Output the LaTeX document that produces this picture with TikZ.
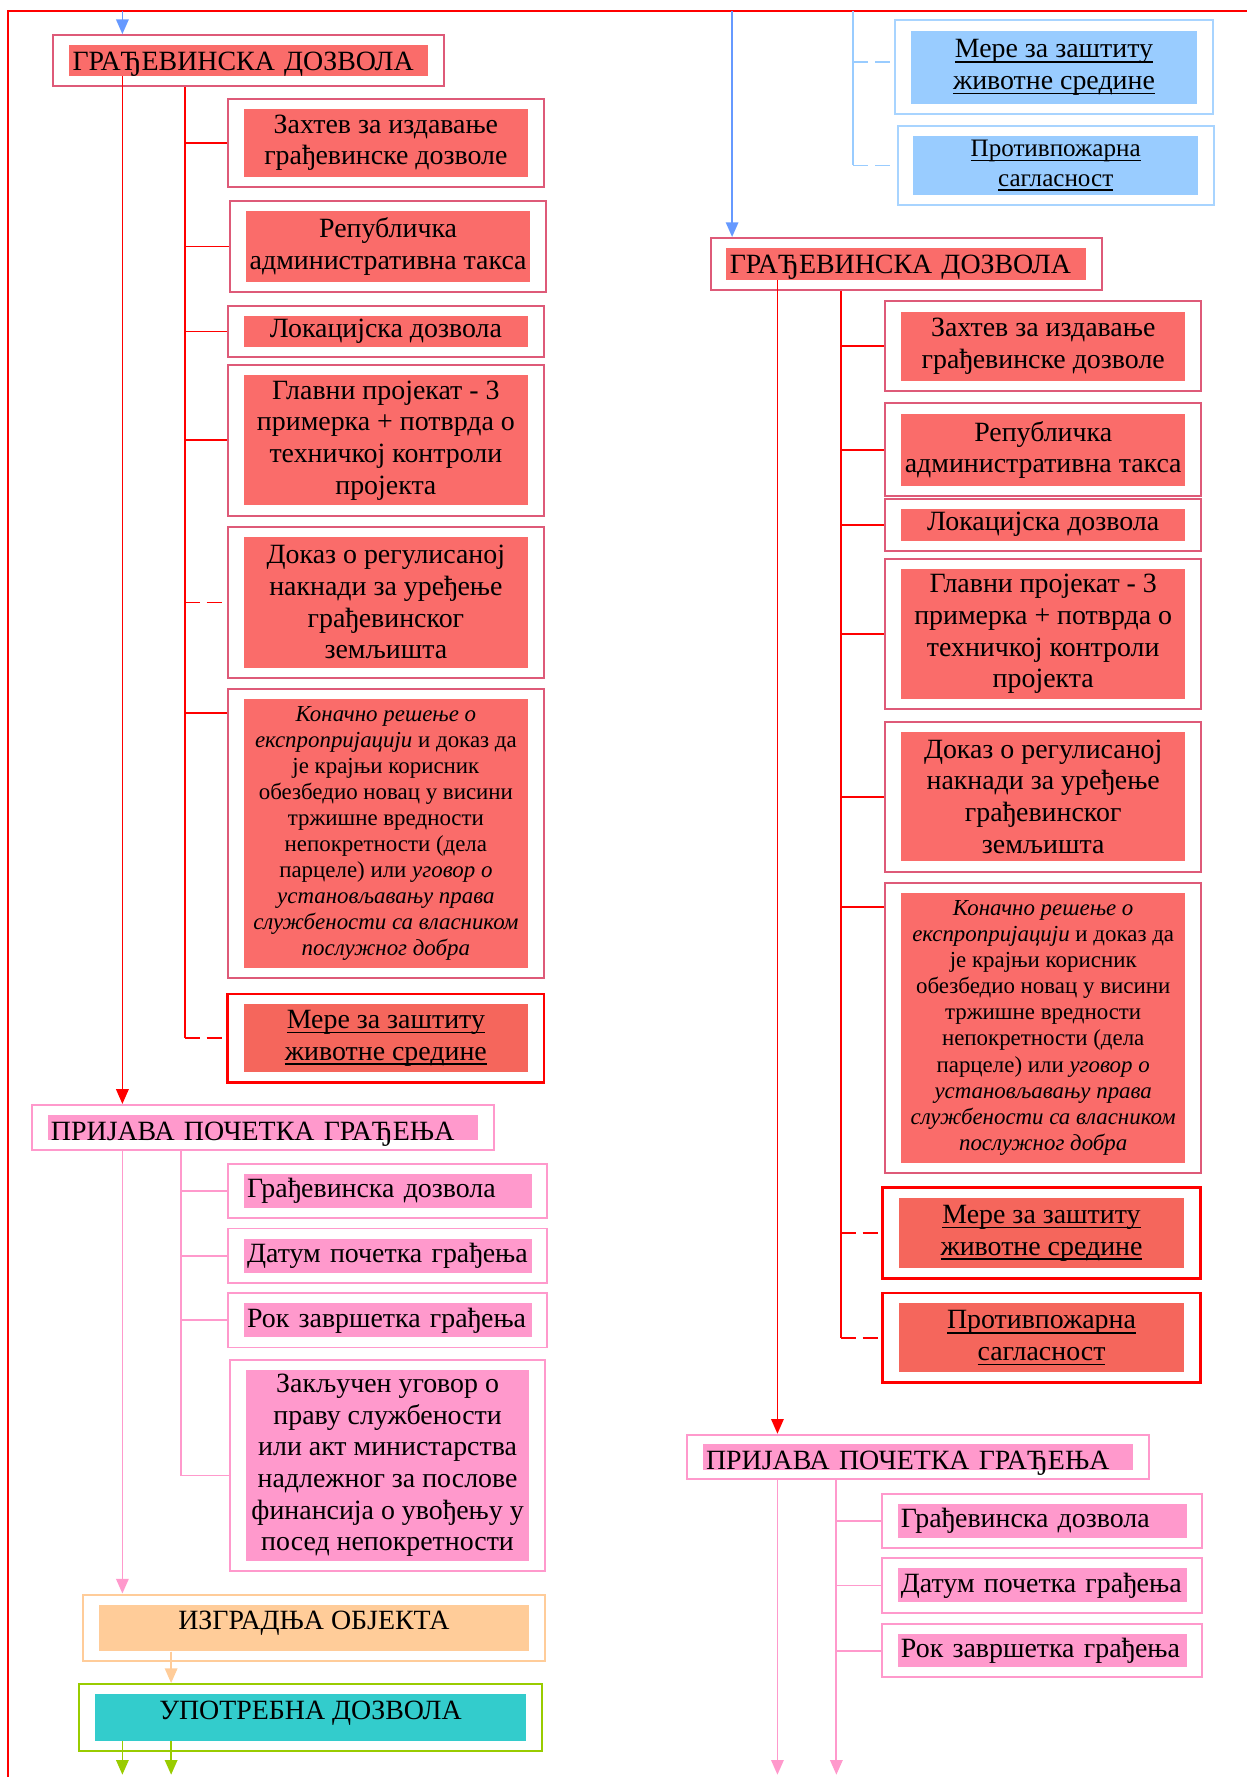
\documentclass[tikz,border=0pt]{standalone}
\usepackage{fontspec}
\setmainfont{Liberation Serif}
\usetikzlibrary{arrows.meta,calc}

\definecolor{cFrame}{HTML}{FF0000}
\definecolor{cPermitEdge}{HTML}{DE5A78}
\definecolor{cPermitFill}{HTML}{FA6C6A}
\definecolor{cMereFill}{HTML}{F5665C}
\definecolor{cPink}{HTML}{FF99CC}
\definecolor{cBlueEdge}{HTML}{A8D4FF}
\definecolor{cBlueFill}{HTML}{99CCFF}
\definecolor{cBlueArrow}{HTML}{6699FF}
\definecolor{cPeach}{HTML}{FFCC99}
\definecolor{cGreen}{HTML}{99CC00}
\definecolor{cTeal}{HTML}{33CCCC}

\newcommand\bodyfont{\fontsize{14pt}{15.9pt}\selectfont}
\newcommand\smallfont{\fontsize{11.5pt}{13.1pt}\selectfont}
\newcommand\ppfont{\fontsize{12.6pt}{14.8pt}\selectfont}
\newcommand\ul[1]{\setbox0\hbox{#1}\rlap{\rule[-2.4pt]{\wd0}{0.75pt}}\box0}

% #1 name, #2 kind, #3 centre, #4 width, #5 height, #6 text options, #7 text
\newcommand\dok[7]{%
  \node[#2box, wd=#4, ht=#5] (#1) at (#3) {};
  \node[#2fill, wd=#4-28, ht=#5-18, #6] (#1t) at (#1) {#7};}

\newcommand\konacno{\textit{Коначно решење о}\\\textit{експропријацији} и доказ да\\је крајњи корисник\\обезбедио новац у висини\\тржишне вредности\\непокретности (дела\\парцеле) или \textit{уговор о}\\\textit{установљавању права}\\\textit{службености са власником}\\\textit{послужног добра}}

\tikzset{
  every node/.style={inner sep=0pt},
  wd/.style={minimum width=(#1)*0.2mm},
  ht/.style={minimum height=(#1)*0.2mm},
  lefttext/.style={align=left, text width=#1},
  titletext/.style={align=left, text width=#1, text depth=0pt},
  permitbox/.style={draw=cPermitEdge, line width=1pt, fill=white},
  permitfill/.style={fill=cPermitFill, align=center, font=\bodyfont},
  merebox/.style={draw=cFrame, line width=1.4pt, fill=white},
  merefill/.style={fill=cMereFill, align=center, font=\bodyfont},
  pinkbox/.style={draw=cPink, line width=1pt, fill=white},
  pinkfill/.style={fill=cPink, align=center, font=\bodyfont},
  bluebox/.style={draw=cBlueEdge, line width=1pt, fill=white},
  bluefill/.style={fill=cBlueFill, align=center, font=\bodyfont},
  peachbox/.style={draw=cPeach, line width=1pt, fill=white},
  peachfill/.style={fill=cPeach, align=center, font=\bodyfont},
  usebox/.style={draw=cGreen, line width=1pt, fill=white},
  usefill/.style={fill=cTeal, align=center, font=\bodyfont},
  tip/.style={-{Triangle[width=2.2mm,length=2.6mm]}},
  dashline/.style={dash pattern=on 2.65mm off 1.2mm},
  redline/.style={draw=cFrame, line width=0.85pt},
  pinkline/.style={draw=cPink, line width=0.9pt},
  blueline/.style={draw=cBlueFill, line width=0.9pt},
}

\begin{document}
\begin{tikzpicture}[x=0.2mm, y=-0.2mm]
		\useasboundingbox (0,0) rectangle (1100,1568);
		
		%%%%% PAGE FRAME %%%%%
		\draw[cFrame, line width=0.9pt] (7,1568) -- (7,10) -- (1100,10);
		\coordinate (frtop) at (0,10);
		\coordinate (pgend) at (0,1566);
		
		\coordinate (spL) at (108,0);
		\coordinate (brL) at (163,0);
		\coordinate (pbrL) at (160,0);
		\coordinate (izx) at (151,0);
		\coordinate (blsp) at (646,0);
		\coordinate (blbr) at (753,0);
		\coordinate (spR) at (686,0);
		\coordinate (brR) at (742,0);
		\coordinate (pbrR) at (738,0);
		
		%%%%% LEFT COLUMN %%%%%
		\dok{gdL}{permit}{219.5,53.5}{345}{45}{titletext=62.2mm, text height=3.4mm}{ГРАЂЕВИНСКА ДОЗВОЛА}
		\dok{zahL}{permit}{340.5,126}{279}{78}{}{Захтев за издавање\\грађевинске дозволе}
		\dok{repL}{permit}{342.5,217.5}{279}{81}{}{Републичка\\административна такса}
		\dok{lokL}{permit}{340.5,292.5}{279}{45}{}{Локацијска дозвола}
		\dok{glL}{permit}{340.5,388.5}{279}{133}{}{Главни пројекат - 3\\примерка + потврда о\\техничкој контроли\\пројекта}
		\dok{dokL}{permit}{340.5,531.5}{279}{133}{}{Доказ о регулисаној\\накнади за уређење\\грађевинског\\земљишта}
		\dok{konL}{permit}{340.5,735.5}{279}{255}{font=\smallfont}{\konacno}
		\dok{merL}{mere}{340.5,916}{279}{78}{}{\ul{Мере за заштиту}\\\ul{животне средине}}
		
		\dok{prL}{pink}{232,995}{408}{40}{titletext=74.8mm, text height=4.4mm}{ПРИЈАВА ПОЧЕТКА ГРАЂЕЊА}
		\dok{gdpL}{pink}{342,1051}{282}{48}{lefttext=49.6mm}{Грађевинска дозвола}
		\dok{datL}{pink}{342,1108}{282}{48}{lefttext=49.6mm}{Датум почетка грађења}
		\dok{rokL}{pink}{342,1165}{282}{48}{lefttext=49.6mm}{Рок завршетка грађења}
		\dok{zakL}{pink}{342,1293}{278}{186}{}{Закључен уговор о\\праву службености\\или акт министарства\\надлежног за послове\\финансија о увођењу у\\посед непокретности}
		
		\dok{izL}{peach}{277,1436.5}{408}{59}{text height=0.5mm, text depth=0pt}{ИЗГРАДЊА ОБЈЕКТА}
		\dok{upL}{use}{274,1515.5}{408}{59}{text height=0.6mm, text depth=0pt}{УПОТРЕБНА ДОЗВОЛА}
		
		%%%%% RIGHT COLUMN %%%%%
		\dok{blMer}{blue}{930,59.5}{280}{83}{}{\ul{Мере за заштиту}\\\ul{животне средине}}
		\dok{blPp}{blue}{931.5,146}{279}{70}{font=\ppfont}{\ul{Противпожарна}\\\ul{сагласност}}
		
		\dok{gdR}{permit}{799.5,233}{345}{46}{titletext=62.2mm, text height=3.4mm}{ГРАЂЕВИНСКА ДОЗВОЛА}
		\dok{zahR}{permit}{920.5,305.5}{279}{79}{}{Захтев за издавање\\грађевинске дозволе}
		\dok{repR}{permit}{920.5,397}{279}{82}{}{Републичка\\административна такса}
		\dok{lokR}{permit}{920.5,463}{279}{46}{}{Локацијска дозвола}
		\dok{glR}{permit}{920.5,559.5}{279}{133}{}{Главни пројекат - 3\\примерка + потврда о\\техничкој контроли\\пројекта}
		\dok{dokR}{permit}{920.5,703}{279}{132}{}{Доказ о регулисаној\\накнади за уређење\\грађевинског\\земљишта}
		\dok{konR}{permit}{920.5,907}{279}{256}{font=\smallfont}{\konacno}
		\dok{merR}{mere}{919,1088}{280}{80}{}{\ul{Мере за заштиту}\\\ul{животне средине}}
		\dok{ppR}{mere}{919,1180.5}{280}{79}{}{\ul{Противпожарна}\\\ul{сагласност}}
		
		\dok{prR}{pink}{810,1285.5}{408}{39}{titletext=74.8mm, text height=4.5mm}{ПРИЈАВА ПОЧЕТКА ГРАЂЕЊА}
		\dok{gdpR}{pink}{919.5,1342}{283}{48}{lefttext=49.8mm}{Грађевинска дозвола}
		\dok{datR}{pink}{919.5,1399}{283}{48}{lefttext=49.8mm}{Датум почетка грађења}
		\dok{rokR}{pink}{919.5,1456.5}{283}{47}{lefttext=49.8mm}{Рок завршетка грађења}
		
		\coordinate (konLc) at ($(konL.north west)+(0,22)$);
		\coordinate (konRc) at ($(konR.north west)+(0,22)$);
		\coordinate (zakLc) at ($(zakL.west)+(0,9)$);
		\coordinate (blMerc) at ($(blMer.west)+(0,-4.5)$);
		
		%%%%% BLUE LINKS %%%%%
		\draw[blueline, draw=cBlueArrow, fill=cBlueArrow, tip] (spL |- frtop) -- (spL |- gdL.north);
		\draw[blueline, draw=cBlueArrow, fill=cBlueArrow, tip] (blsp |- frtop) -- (blsp |- gdR.north);
		\draw[blueline] (blbr |- frtop) -- (blbr |- blPp.west);
		\draw[blueline, dashline] (blbr |- blMerc) -- (blMerc);
		\draw[blueline, dashline] (blbr |- blPp.west) -- (blPp.west);
		
		%%%%% LEFT LINKS %%%%%
		\draw[redline, fill=cFrame, tip] (spL |- gdLt.south) -- (spL |- prL.north);
		\draw[redline] (brL |- gdL.south) -- (brL |- merL.west);
		\draw[redline] (brL |- zahL.west) -- (zahL.west);
		\draw[redline] (brL |- repL.west) -- (repL.west);
		\draw[redline] (brL |- lokL.west) -- (lokL.west);
		\draw[redline] (brL |- glL.west) -- (glL.west);
		\draw[redline, dashline] (brL |- dokL.west) -- (dokL.west);
		\draw[redline] (brL |- konLc) -- (konLc);
		\draw[redline, dashline] (brL |- merL.west) -- (merL.west);
		
		\draw[pinkline, fill=cPink, tip] (spL |- prL.south) -- (spL |- izL.north);
		\draw[pinkline] (pbrL |- prL.south) -- (pbrL |- zakLc);
		\draw[pinkline] (pbrL |- gdpL.west) -- (gdpL.west);
		\draw[pinkline] (pbrL |- datL.west) -- (datL.west);
		\draw[pinkline] (pbrL |- rokL.west) -- (rokL.west);
		\draw[pinkline] (pbrL |- zakLc) -- (zakLc);
		
		\draw[cPeach, line width=0.9pt, fill=cPeach, tip] (izx |- izLt.south) -- (izx |- upL.north);
		\draw[cGreen, line width=0.9pt, fill=cGreen, tip] (spL |- upLt.south) -- (spL |- pgend);
		\draw[cGreen, line width=0.9pt, fill=cGreen, tip] (izx |- upLt.south) -- (izx |- pgend);
		
		%%%%% RIGHT LINKS %%%%%
		\draw[redline, fill=cFrame, tip] (spR |- gdRt.south) -- (spR |- prR.north);
		\draw[redline] (brR |- gdR.south) -- (brR |- ppR.west);
		\draw[redline] (brR |- zahR.west) -- (zahR.west);
		\draw[redline] (brR |- repR.west) -- (repR.west);
		\draw[redline] (brR |- lokR.west) -- (lokR.west);
		\draw[redline] (brR |- glR.west) -- (glR.west);
		\draw[redline] (brR |- dokR.west) -- (dokR.west);
		\draw[redline] (brR |- konRc) -- (konRc);
		\draw[redline, dashline] (brR |- merR.west) -- (merR.west);
		\draw[redline, dashline] (brR |- ppR.west) -- (ppR.west);
		
		\draw[pinkline, fill=cPink, tip] (spR |- prR.south) -- (spR |- pgend);
		\draw[pinkline, fill=cPink, tip] (pbrR |- prR.south) -- (pbrR |- pgend);
		\draw[pinkline] (pbrR |- gdpR.west) -- (gdpR.west);
		\draw[pinkline] (pbrR |- datR.west) -- (datR.west);
		\draw[pinkline] (pbrR |- rokR.west) -- (rokR.west);
		
	\end{tikzpicture}
\end{document}
